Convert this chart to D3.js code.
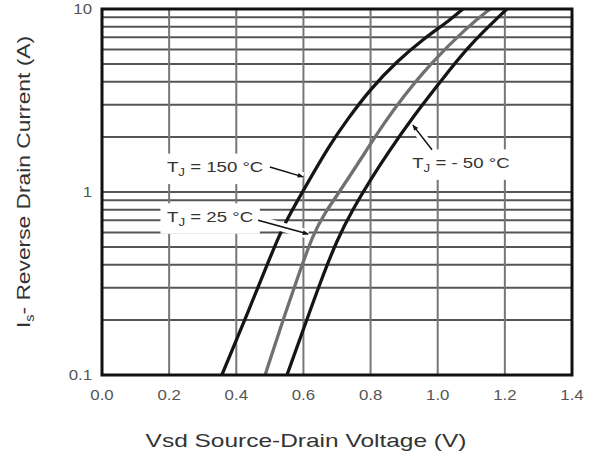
<!DOCTYPE html>
<html>
<head>
<meta charset="utf-8">
<script src="https://cdn.jsdelivr.net/npm/d3@7"></script>
<style>
  html, body { margin: 0; padding: 0; background: #fff; }
  svg { display: block; font-family: "Liberation Sans", Arial, sans-serif; }
</style>
</head>
<body>
<svg id="chart" width="593" height="457"></svg>
<script>
// ---- data ----
const xTicks = [0.0, 0.2, 0.4, 0.6, 0.8, 1.0, 1.2, 1.4];
const yTickLabels = ["0.1", "1", "10"];
const yTicks = [0.1, 1, 10];

// Is (A) vs Vsd (V)
const vsd150 = [0.357, 0.43,  0.50,  0.53,  0.551, 0.60,  0.679, 0.73, 0.798, 0.879, 0.96, 1.037, 1.075];
const is150  = [0.1,   0.209, 0.437, 0.589, 0.708, 1.023, 1.82,  2.48, 3.63,  5.19,  6.92, 8.71,  10];

const vsd25 = [0.486, 0.53,  0.584, 0.629, 0.665, 0.70,  0.789, 0.837, 0.897, 0.977, 1.087, 1.156];
const is25  = [0.1,   0.178, 0.347, 0.589, 0.776, 0.955, 1.70,  2.34,  3.31,  5.01,  7.94,  10];

const vsdM50 = [0.551, 0.61, 0.649, 0.70, 0.748, 0.80, 0.85, 0.926, 1.007, 1.087, 1.206];
const isM50  = [0.1,   0.2,  0.316, 0.55, 0.81,  1.17, 1.62, 2.57,  3.98,  6.17,  10];

const seriesNames = ["150 °C", "25 °C", "- 50 °C"];

// ---- layout ----
const svg = d3.select("#chart");
const pLeft = 102, pRight = 572, pTop = 9, pBottom = 375;

const x = d3.scaleLinear().domain([0, 1.4]).range([pLeft, pRight]);
const y = d3.scaleLog().domain([0.1, 10]).range([pBottom, pTop]);

const STRETCH = 1.33; // reference text is horizontally stretched

// ---- grid ----
const hGrid = [];
[0.1, 1].forEach(d => { for (let k = 2; k <= 9; k++) hGrid.push(d * k); });
hGrid.push(1);

svg.append("g").selectAll("line").data(hGrid).join("line")
  .attr("x1", pLeft).attr("x2", pRight)
  .attr("y1", d => y(d)).attr("y2", d => y(d))
  .attr("stroke", "#555").attr("stroke-width", 2);

svg.append("g").selectAll("line").data(xTicks.slice(1, -1)).join("line")
  .attr("x1", d => x(d)).attr("x2", d => x(d))
  .attr("y1", pTop).attr("y2", pBottom)
  .attr("stroke", "#777").attr("stroke-width", 2);

// ---- curves ----
const line = d3.line()
  .x(d => x(d[0])).y(d => y(d[1]))
  .curve(d3.curveBasis);

const curves = [
  { v: vsd150, i: is150, color: "#151515" },
  { v: vsd25,  i: is25,  color: "#707070" },
  { v: vsdM50, i: isM50, color: "#151515" }
];
svg.append("g").selectAll("path").data(curves).join("path")
  .attr("d", c => line(c.v.map((v, k) => [v, c.i[k]])))
  .attr("fill", "none")
  .attr("stroke", c => c.color)
  .attr("stroke-width", 3.3)
  .attr("stroke-linecap", "butt");

// ---- frame ----
svg.append("rect")
  .attr("x", pLeft).attr("y", pTop)
  .attr("width", pRight - pLeft).attr("height", pBottom - pTop)
  .attr("fill", "none").attr("stroke", "#111").attr("stroke-width", 3);

// ---- annotations ----
svg.append("defs").append("marker")
  .attr("id", "ah").attr("viewBox", "0 0 10 10")
  .attr("refX", 9).attr("refY", 5)
  .attr("markerWidth", 7).attr("markerHeight", 6)
  .attr("markerUnits", "userSpaceOnUse")
  .attr("orient", "auto")
  .append("path").attr("d", "M0,1 L10,5 L0,9 Z").attr("fill", "#111");

const annots = [
  { name: seriesNames[0], tx: 0.337, ty: 1.28, a0: [0.50, 1.37], a1: [0.599, 1.21] },
  { name: seriesNames[1], tx: 0.322, ty: 0.685, a0: [0.465, 0.70], a1: [0.614, 0.589] },
  { name: seriesNames[2], tx: 1.069, ty: 1.35, a0: [0.983, 1.70], a1: [0.926, 2.32] }
];

annots.forEach(a => {
  svg.append("line")
    .attr("x1", x(a.a0[0])).attr("y1", y(a.a0[1]))
    .attr("x2", x(a.a1[0])).attr("y2", y(a.a1[1]))
    .attr("stroke", "#fff").attr("stroke-width", 9);
});

annots.forEach(a => {
  const g = svg.append("g")
    .attr("transform", `translate(${x(a.tx)},${y(a.ty)}) scale(${STRETCH},1)`);
  const bg = g.append("rect").attr("fill", "#fff");
  const t = g.append("text")
    .attr("text-anchor", "middle")
    .attr("font-size", 14)
    .attr("fill", "#333");
  t.append("tspan").text("T");
  t.append("tspan").attr("font-size", 10).attr("dy", 4).text("J");
  t.append("tspan").attr("dy", -4).text(" = " + a.name);
  const b = t.node().getBBox();
  bg.attr("x", b.x - 5).attr("y", b.y - 6)
    .attr("width", b.width + 10).attr("height", b.height + 12);

  svg.append("line")
    .attr("x1", x(a.a0[0])).attr("y1", y(a.a0[1]))
    .attr("x2", x(a.a1[0])).attr("y2", y(a.a1[1]))
    .attr("stroke", "#111").attr("stroke-width", 1.5)
    .attr("marker-end", "url(#ah)");
});

// ---- tick labels ----
svg.append("g").selectAll("text").data(xTicks).join("text")
  .attr("transform", d => `translate(${x(d)},400) scale(1.2,1)`)
  .attr("text-anchor", "middle")
  .attr("font-size", 14)
  .attr("fill", "#555")
  .text(d => d.toFixed(1));

svg.append("g").selectAll("text").data(yTicks).join("text")
  .attr("transform", d => `translate(92,${y(d) + 5}) scale(1.2,1)`)
  .attr("text-anchor", "end")
  .attr("font-size", 14)
  .attr("fill", "#555")
  .text((d, k) => yTickLabels[k]);

// ---- axis titles ----
svg.append("text")
  .attr("transform", "translate(306,447) scale(1.36,1)")
  .attr("text-anchor", "middle")
  .attr("font-size", 18)
  .attr("fill", "#333")
  .text("Vsd Source-Drain Voltage (V)");

const yt = svg.append("text")
  .attr("transform", "translate(30,182) rotate(-90) scale(1.2,1)")
  .attr("text-anchor", "middle")
  .attr("font-size", 19)
  .attr("fill", "#333");
yt.append("tspan").text("I");
yt.append("tspan").attr("font-size", 12).attr("dy", 4).text("s");
yt.append("tspan").attr("dy", -4).text("- Reverse Drain Current (A)");
</script>
</body>
</html>
